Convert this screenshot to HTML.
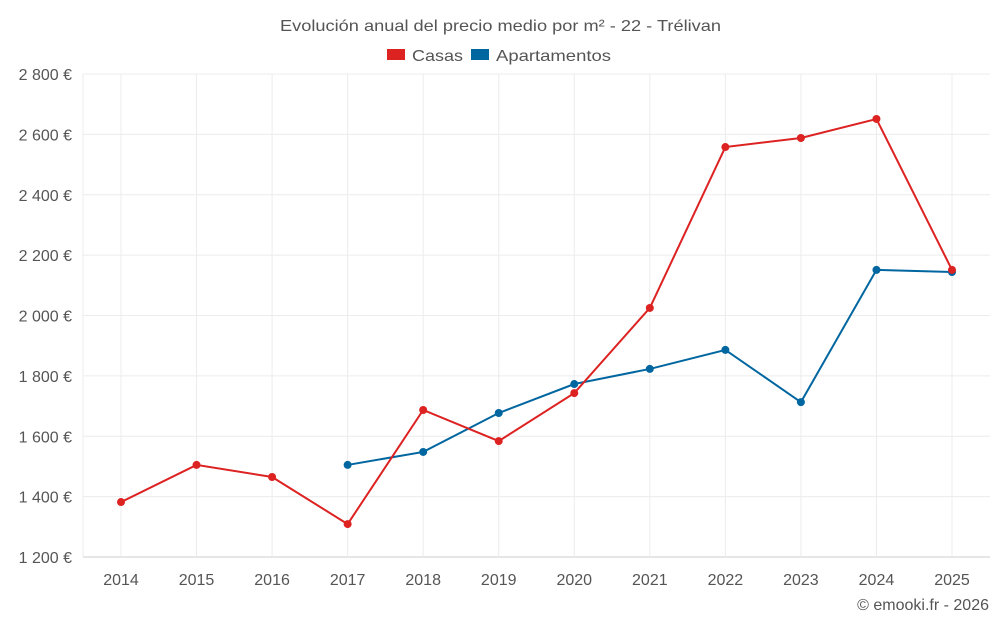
<!DOCTYPE html>
<html><head><meta charset="utf-8"><style>
body{margin:0;background:#fff;font-family:"Liberation Sans",sans-serif;}
svg text{font-family:"Liberation Sans",sans-serif;fill:#555;}
</style></head><body>
<svg id="chart" width="1000" height="625" xmlns="http://www.w3.org/2000/svg">
<text x="280" y="31" font-size="16" textLength="441" lengthAdjust="spacingAndGlyphs">Evolución anual del precio medio por m² - 22 - Trélivan</text>
<g>
<g><rect x="387" y="49" width="18" height="11" fill="#dd2222"/><text x="412" y="61" font-size="16" textLength="51" lengthAdjust="spacingAndGlyphs">Casas</text></g>
<g><rect x="471" y="49" width="18" height="11" fill="#0066a0"/><text x="496" y="61" font-size="16" textLength="115" lengthAdjust="spacingAndGlyphs">Apartamentos</text></g>
</g>
<g id="grid"></g><g id="axes"></g><g id="series"></g>
<text x="989" y="610" text-anchor="end" font-size="16">© emooki.fr - 2026</text>
</svg>
<script>
const years=[2014,2015,2016,2017,2018,2019,2020,2021,2022,2023,2024,2025];
const casas=[1382,1505,1465,1309,1687,1584,1743,2025,2558,2588,2651,2151];
const apartamentos=[null,null,null,1505,1548,1677,1773,1823,1886,1713,2151,2144];
const yTicks=[1200,1400,1600,1800,2000,2200,2400,2600,2800];
const yTickLabels=["1 200 €","1 400 €","1 600 €","1 800 €","2 000 €","2 200 €","2 400 €","2 600 €","2 800 €"];
const NS="http://www.w3.org/2000/svg";
const x0=83,x1=990,yTop=74,yBot=557;
function xs(i){return 121+i*(952-121)/(years.length-1);}
function ys(v){return yBot-(v-1200)/(2800-1200)*(yBot-yTop);}
function mk(tag,attrs,parent){const e=document.createElementNS(NS,tag);for(const k in attrs)e.setAttribute(k,attrs[k]);parent.appendChild(e);return e;}
const grid=document.getElementById('grid'),axes=document.getElementById('axes'),ser=document.getElementById('series');
yTicks.forEach((t,i)=>{
 const l=mk('line',{x1:x0,x2:x1,y1:ys(t),y2:ys(t),stroke:i==0?'#ccc':'#ececec'},grid);
 
 
 const tx=mk('text',{x:72,y:ys(t)+6,'text-anchor':'end','font-size':16},axes);
 tx.textContent=yTickLabels[i];
 
 
});
mk('line',{x1:x0,x2:x0,y1:yTop,y2:yBot,stroke:'#ececec'},grid);
years.forEach((y,i)=>{
 const l=mk('line',{x1:xs(i),x2:xs(i),y1:yTop,y2:yBot,stroke:'#ececec'},grid);
 
 
 const tx=mk('text',{x:xs(i),y:585,'text-anchor':'middle','font-size':16},axes);
 tx.textContent=y;
 
 
});
function draw(data,color,name){
 let pts=[];data.forEach((v,i)=>{if(v!=null)pts.push([xs(i),ys(v)]);});
 const p=mk('polyline',{points:pts.map(p=>p.join(',')).join(' '),fill:'none',stroke:color,'stroke-width':2},ser);
 
 
 pts.forEach(q=>{const c=mk('circle',{cx:q[0],cy:q[1],r:4,fill:color},ser);
 
 });
}
draw(apartamentos,'#0066a0','apartamentos');
draw(casas,'#dd2222','casas');
</script>
</body></html>
